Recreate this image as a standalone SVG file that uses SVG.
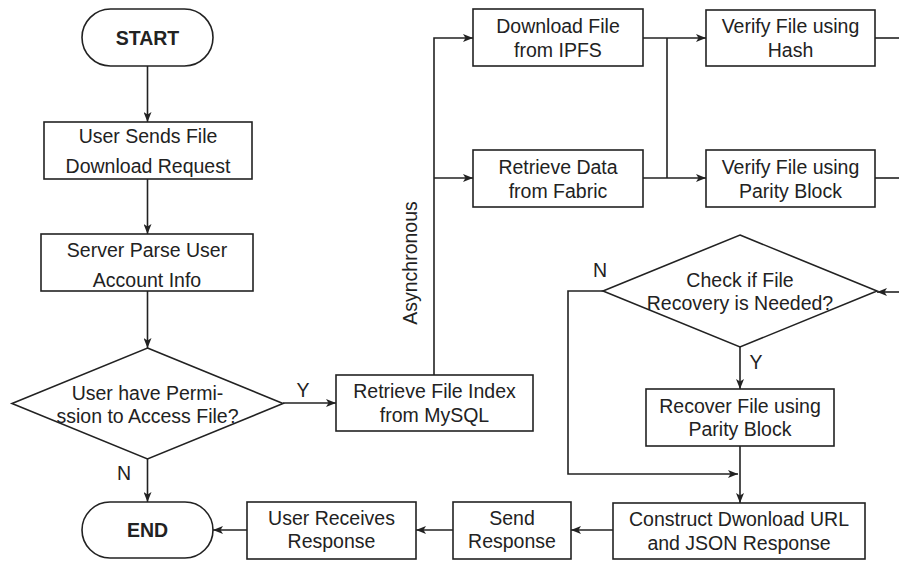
<svg xmlns="http://www.w3.org/2000/svg" width="899" height="562" viewBox="0 0 899 562">
  <style>
    .shape { fill: #ffffff; stroke: #222222; stroke-width: 1.6; }
    .edge { fill: none; stroke: #222222; stroke-width: 1.6; }
    .label { font-family: "Liberation Sans", Arial, sans-serif; font-size: 19.5px; fill: #222222; text-anchor: middle; }
    .bold { font-weight: bold; }
  </style>
  <defs>
    <marker id="arrow" viewBox="0 0 10 8" refX="10" refY="4" markerWidth="10" markerHeight="8" markerUnits="userSpaceOnUse" orient="auto">
      <path d="M0,0 L10,4 L0,8 L2.5,4 Z" fill="#222222"/>
    </marker>
  </defs>

  <rect width="899" height="562" fill="#ffffff"/>

  <!-- connectors -->
  <g id="connectors">
    <path class="edge" d="M147.5,66 V122" marker-end="url(#arrow)"/>
    <path class="edge" d="M147.5,179 V234" marker-end="url(#arrow)"/>
    <path class="edge" d="M147.5,291 V348" marker-end="url(#arrow)"/>
    <path class="edge" d="M147.5,459 V502" marker-end="url(#arrow)"/>
    <path class="edge" d="M283,403 H336" marker-end="url(#arrow)"/>
    <path class="edge" d="M434,375 V38 H473" marker-end="url(#arrow)"/>
    <path class="edge" d="M434,178 H473" marker-end="url(#arrow)"/>
    <path class="edge" d="M643,38 H706" marker-end="url(#arrow)"/>
    <path class="edge" d="M643,178 H706" marker-end="url(#arrow)"/>
    <path class="edge" d="M667,38 V178"/>
    <path class="edge" d="M875,38 H899"/>
    <path class="edge" d="M875,178 H899"/>
    <path class="edge" d="M899,292 H877" marker-end="url(#arrow)"/>
    <path class="edge" d="M740,347 V389" marker-end="url(#arrow)"/>
    <path class="edge" d="M603,291 H568 V474 H738" marker-end="url(#arrow)"/>
    <path class="edge" d="M740,446 V503" marker-end="url(#arrow)"/>
    <path class="edge" d="M613,530 H571" marker-end="url(#arrow)"/>
    <path class="edge" d="M453,530 H416" marker-end="url(#arrow)"/>
    <path class="edge" d="M247,530 H213" marker-end="url(#arrow)"/>

    <text class="label" x="303" y="397">Y</text>
    <text class="label" x="124" y="480">N</text>
    <text class="label" x="756" y="369">Y</text>
    <text class="label" x="600" y="277">N</text>
    <text class="label" x="417" y="263" transform="rotate(-90 417 263)">Asynchronous</text>
  </g>

  <!-- nodes -->
  <g id="start">
    <rect class="shape" x="82" y="9" width="131" height="57" rx="28.5" ry="28.5"/>
    <text class="label bold" x="147.5" y="44.5">START</text>
  </g>

  <g id="send-request">
    <rect class="shape" x="44" y="122" width="208" height="57"/>
    <text class="label" x="148" y="143">User Sends File</text>
    <text class="label" x="148" y="173">Download Request</text>
  </g>

  <g id="parse-account">
    <rect class="shape" x="41" y="234" width="212" height="57"/>
    <text class="label" x="147" y="257">Server Parse User</text>
    <text class="label" x="147" y="287">Account Info</text>
  </g>

  <g id="permission-check">
    <polygon class="shape" points="147.5,348 283,403.5 147.5,459 12,403.5"/>
    <text class="label" x="147.5" y="400">User have Permi-</text>
    <text class="label" x="147.5" y="423">ssion to Access File?</text>
  </g>

  <g id="retrieve-index">
    <rect class="shape" x="336" y="375" width="197" height="56"/>
    <text class="label" x="434.5" y="398">Retrieve File Index</text>
    <text class="label" x="434.5" y="422">from MySQL</text>
  </g>

  <g id="download-ipfs">
    <rect class="shape" x="473" y="9" width="170" height="57"/>
    <text class="label" x="558" y="33">Download File</text>
    <text class="label" x="558" y="57">from IPFS</text>
  </g>

  <g id="retrieve-fabric">
    <rect class="shape" x="473" y="150" width="170" height="57"/>
    <text class="label" x="558" y="174">Retrieve Data</text>
    <text class="label" x="558" y="198">from Fabric</text>
  </g>

  <g id="verify-hash">
    <rect class="shape" x="706" y="10" width="169" height="56"/>
    <text class="label" x="790.5" y="33">Verify File using</text>
    <text class="label" x="790.5" y="57">Hash</text>
  </g>

  <g id="verify-parity">
    <rect class="shape" x="706" y="150" width="169" height="57"/>
    <text class="label" x="790.5" y="174">Verify File using</text>
    <text class="label" x="790.5" y="198">Parity Block</text>
  </g>

  <g id="recovery-check">
    <polygon class="shape" points="740,235 877,291 740,347 603,291"/>
    <text class="label" x="740" y="287">Check if File</text>
    <text class="label" x="740" y="310">Recovery is Needed?</text>
  </g>

  <g id="recover-file">
    <rect class="shape" x="646" y="389" width="188" height="57"/>
    <text class="label" x="740" y="413">Recover File using</text>
    <text class="label" x="740" y="436">Parity Block</text>
  </g>

  <g id="construct-response">
    <rect class="shape" x="613" y="503" width="252" height="56"/>
    <text class="label" x="739" y="526">Construct Dwonload URL</text>
    <text class="label" x="739" y="550">and JSON Response</text>
  </g>

  <g id="send-response">
    <rect class="shape" x="453" y="502" width="118" height="57"/>
    <text class="label" x="512" y="525">Send</text>
    <text class="label" x="512" y="548">Response</text>
  </g>

  <g id="user-receives">
    <rect class="shape" x="247" y="502" width="169" height="57"/>
    <text class="label" x="331.5" y="525">User Receives</text>
    <text class="label" x="331.5" y="548">Response</text>
  </g>

  <g id="end">
    <rect class="shape" x="82" y="502" width="131" height="56" rx="28" ry="28"/>
    <text class="label bold" x="147.5" y="537">END</text>
  </g>
</svg>
